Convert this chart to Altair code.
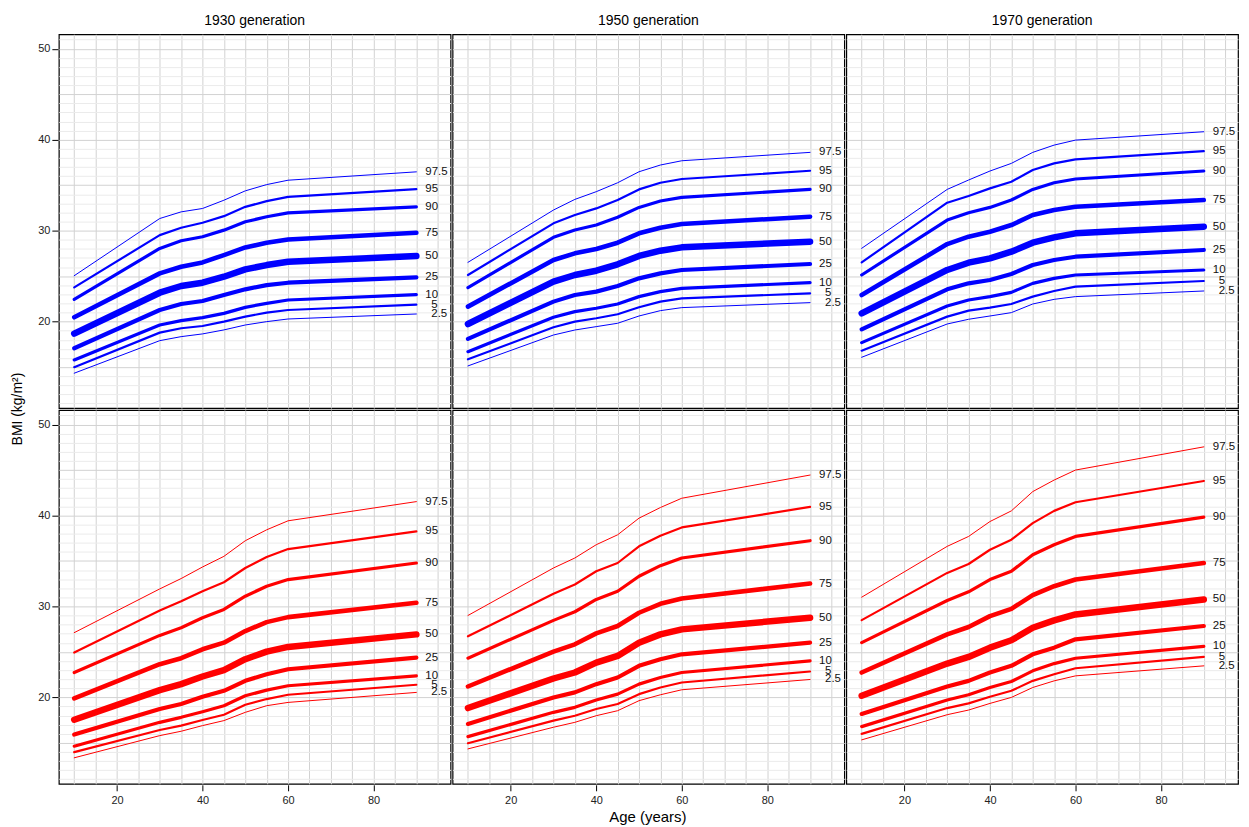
import altair as alt
import pandas as pd

AGES = [10, 30, 35, 40, 45, 50, 55, 60, 90]
PCTS = ["2.5", "5", "10", "25", "50", "75", "90", "95", "97.5"]
WIDTHS = [1, 2.2, 3.2, 4.2, 6.5, 4.6, 3.2, 2.2, 1]
SHIFTED = ["5", "2.5"]
GENERATIONS = ["1930 generation", "1950 generation", "1970 generation"]
SEXES = ["Men", "Women"]

MEN_1930 = {
    "97.5": [25.05, 31.34, 32.07, 32.44, 33.35, 34.38, 35.07, 35.55, 36.47],
    "95":   [23.77, 29.51, 30.32, 30.87, 31.60, 32.62, 33.25, 33.72, 34.56],
    "90":   [22.45, 28.05, 28.89, 29.33, 30.06, 30.98, 31.53, 31.96, 32.62],
    "75":   [20.48, 25.31, 26.04, 26.51, 27.32, 28.16, 28.67, 29.04, 29.77],
    "50":   [18.68, 23.18, 23.92, 24.28, 24.94, 25.74, 26.22, 26.59, 27.21],
    "25":   [17.07, 21.28, 21.94, 22.27, 22.93, 23.55, 24.02, 24.28, 24.87],
    "10":   [15.79, 19.63, 20.11, 20.44, 20.91, 21.57, 22.01, 22.38, 22.96],
    "5":    [14.99, 18.79, 19.27, 19.52, 20.00, 20.55, 20.99, 21.28, 21.87],
    "2.5":  [14.33, 17.91, 18.35, 18.65, 19.09, 19.63, 20.00, 20.29, 20.84],
}
MEN_1950 = {
    "97.5": [26.52, 32.27, 33.44, 34.29, 35.27, 36.48, 37.22, 37.69, 38.61],
    "95":   [25.13, 30.81, 31.72, 32.45, 33.37, 34.54, 35.27, 35.68, 36.59],
    "90":   [23.74, 29.27, 30.07, 30.62, 31.47, 32.56, 33.26, 33.66, 34.54],
    "75":   [21.65, 26.78, 27.51, 27.99, 28.68, 29.71, 30.33, 30.73, 31.54],
    "50":   [19.74, 24.40, 25.13, 25.60, 26.30, 27.22, 27.80, 28.17, 28.79],
    "25":   [18.10, 22.20, 22.93, 23.30, 23.92, 24.76, 25.31, 25.68, 26.34],
    "10":   [16.70, 20.48, 21.10, 21.47, 21.94, 22.75, 23.30, 23.66, 24.29],
    "5":    [15.86, 19.38, 20.00, 20.37, 20.81, 21.58, 22.20, 22.56, 23.11],
    "2.5":  [15.13, 18.53, 19.08, 19.45, 19.82, 20.62, 21.21, 21.54, 22.09],
}
MEN_1970 = {
    "97.5": [28.06, 34.54, 35.57, 36.56, 37.40, 38.61, 39.41, 39.96, 40.88],
    "95":   [26.52, 33.08, 33.81, 34.65, 35.38, 36.67, 37.40, 37.84, 38.75],
    "90":   [25.13, 31.17, 31.98, 32.56, 33.37, 34.54, 35.27, 35.68, 36.56],
    "75":   [22.93, 28.53, 29.34, 29.89, 30.62, 31.72, 32.27, 32.64, 33.37],
    "50":   [20.92, 25.68, 26.48, 26.96, 27.69, 28.68, 29.27, 29.71, 30.44],
    "25":   [19.16, 23.55, 24.21, 24.58, 25.24, 26.23, 26.78, 27.14, 27.88],
    "10":   [17.69, 21.72, 22.38, 22.75, 23.22, 24.21, 24.76, 25.13, 25.68],
    "5":    [16.81, 20.55, 21.21, 21.54, 21.94, 22.75, 23.37, 23.85, 24.47],
    "2.5":  [16.08, 19.74, 20.26, 20.62, 20.99, 21.94, 22.45, 22.75, 23.37],
}
WOMEN_1930 = {
    "97.5": [27.12, 31.93, 33.07, 34.34, 35.51, 37.23, 38.43, 39.42, 41.53],
    "95":   [24.93, 29.56, 30.58, 31.68, 32.66, 34.23, 35.44, 36.31, 38.25],
    "90":   [22.74, 26.82, 27.66, 28.76, 29.67, 31.13, 32.23, 32.96, 34.78],
    "75":   [19.89, 23.65, 24.31, 25.29, 26.02, 27.30, 28.28, 28.83, 30.40],
    "50":   [17.55, 20.80, 21.46, 22.30, 22.99, 24.20, 25.04, 25.55, 26.93],
    "25":   [15.91, 18.72, 19.27, 20.07, 20.73, 21.82, 22.55, 23.10, 24.38],
    "10":   [14.64, 17.26, 17.81, 18.43, 19.09, 20.18, 20.80, 21.28, 22.37],
    "5":    [13.98, 16.42, 16.90, 17.52, 18.10, 19.20, 19.82, 20.29, 21.39],
    "2.5":  [13.36, 15.80, 16.28, 16.90, 17.45, 18.36, 19.09, 19.45, 20.55],
}
WOMEN_1950 = {
    "97.5": [29.01, 34.23, 35.33, 36.79, 37.88, 39.71, 40.88, 41.90, 44.45],
    "95":   [26.72, 31.39, 32.41, 33.87, 34.78, 36.61, 37.77, 38.69, 40.95],
    "90":   [24.31, 28.47, 29.42, 30.77, 31.68, 33.32, 34.49, 35.33, 37.23],
    "75":   [21.20, 25.04, 25.84, 27.04, 27.85, 29.31, 30.29, 30.88, 32.52],
    "50":   [18.83, 22.08, 22.74, 23.83, 24.56, 26.02, 26.93, 27.48, 28.76],
    "25":   [17.08, 20.00, 20.55, 21.46, 22.19, 23.47, 24.20, 24.74, 26.02],
    "10":   [15.69, 18.36, 18.91, 19.71, 20.36, 21.46, 22.19, 22.74, 24.01],
    "5":    [14.96, 17.45, 17.99, 18.72, 19.27, 20.36, 21.09, 21.64, 22.85],
    "2.5":  [14.34, 16.72, 17.26, 17.99, 18.54, 19.64, 20.29, 20.84, 21.97],
}
WOMEN_1970 = {
    "97.5": [31.02, 36.61, 37.70, 39.34, 40.51, 42.63, 43.90, 45.00, 47.55],
    "95":   [28.50, 33.69, 34.67, 36.24, 37.34, 39.16, 40.51, 41.46, 43.80],
    "90":   [26.02, 30.66, 31.61, 32.96, 33.87, 35.69, 36.79, 37.70, 39.82],
    "75":   [22.74, 26.93, 27.74, 28.94, 29.74, 31.24, 32.23, 32.96, 34.78],
    "50":   [20.18, 23.72, 24.45, 25.47, 26.28, 27.66, 28.47, 29.12, 30.77],
    "25":   [18.18, 21.20, 21.82, 22.74, 23.47, 24.74, 25.47, 26.39, 27.85],
    "10":   [16.79, 19.71, 20.29, 21.09, 21.75, 22.92, 23.72, 24.31, 25.62],
    "5":    [15.99, 18.83, 19.34, 20.07, 20.73, 21.82, 22.55, 23.21, 24.45],
    "2.5":  [15.33, 18.10, 18.61, 19.34, 20.00, 21.09, 21.82, 22.37, 23.47],
}

PANELS = [
    ("Men", "1930 generation", MEN_1930),
    ("Men", "1950 generation", MEN_1950),
    ("Men", "1970 generation", MEN_1970),
    ("Women", "1930 generation", WOMEN_1930),
    ("Women", "1950 generation", WOMEN_1950),
    ("Women", "1970 generation", WOMEN_1970),
]

rows = []
for sex, gen, table in PANELS:
    for pct in PCTS:
        for age, bmi in zip(AGES, table[pct]):
            rows.append({"sex": sex, "generation": gen, "pct": pct,
                         "age": age, "bmi": bmi,
                         "shifted": pct in SHIFTED})
df = pd.DataFrame(rows)

FONT = "Liberation Sans"
LAST_AGE = AGES[-1]
X_GRID = list(range(10, 100, 5))
Y_GRID = list(range(11, 52))

x_enc = alt.X(
    "age:Q",
    scale=alt.Scale(domain=[6.4, 98.0], nice=False, zero=False),
    axis=alt.Axis(
        title=None,
        values=X_GRID,
        tickCount=200,
        format="d",
        grid=True,
        gridColor="#d2d2d2",
        gridWidth=1,
        domain=False,
        labelOverlap=False,
        labelExpr="datum.value % 20 === 0 ? datum.label : ''",
        tickColor={"condition": {"test": "datum.value % 20 === 0", "value": "black"},
                   "value": "rgba(0,0,0,0)"},
        tickSize=6,
        labelFontSize=11,
        labelColor="#222222",
        labelPadding=4,
    ),
)
y_enc = alt.Y(
    "bmi:Q",
    scale=alt.Scale(domain=[10.5, 51.6], nice=False, zero=False),
    axis=alt.Axis(
        title=None,
        values=Y_GRID,
        tickCount=200,
        format="d",
        grid=True,
        gridColor={"condition": {"test": "datum.value % 5 === 0", "value": "#d2d2d2"},
                   "value": "#ebebeb"},
        gridWidth=1,
        domain=False,
        labelOverlap=False,
        labelExpr="datum.value % 10 === 0 ? datum.label : ''",
        tickColor={"condition": {"test": "datum.value % 10 === 0", "value": "black"},
                   "value": "rgba(0,0,0,0)"},
        tickSize=6,
        labelFontSize=11,
        labelColor="#222222",
        labelPadding=2,
    ),
)

color_enc = alt.Color("sex:N", scale=alt.Scale(domain=SEXES, range=["#0000ff", "#ff0000"]),
                      legend=None)

lines = alt.Chart().mark_line(interpolate="linear", strokeCap="round",
                              strokeJoin="round").encode(
    x=x_enc,
    y=y_enc,
    color=color_enc,
    detail="pct:N",
    strokeWidth=alt.StrokeWidth("pct:N", scale=alt.Scale(type="ordinal", domain=PCTS,
                                                         range=WIDTHS), legend=None),
)

labels = alt.Chart().transform_filter(
    f"datum.age === {LAST_AGE} && !datum.shifted"
).mark_text(
    align="left", baseline="middle", dx=9, fontSize=11.5, font=FONT, color="#111111"
).encode(x=alt.X("age:Q"), y=alt.Y("bmi:Q"), text="pct:N")

labels_shifted = alt.Chart().transform_filter(
    f"datum.age === {LAST_AGE} && datum.shifted"
).mark_text(
    align="left", baseline="middle", dx=15, fontSize=11.5, font=FONT, color="#111111"
).encode(x=alt.X("age:Q"), y=alt.Y("bmi:Q"), text="pct:N")

chart = alt.layer(lines, labels, labels_shifted, data=df).properties(
    width=393, height=375,
    view=alt.ViewBackground(stroke="#000000", strokeWidth=1.2, strokeOpacity=1),
).facet(
    row=alt.Row("sex:N", sort=SEXES,
                header=alt.Header(labels=False, title="BMI (kg/m²)", titleOrient="left",
                                  titleFontSize=14, titleFontWeight="normal", titleFont=FONT,
                                  titlePadding=2)),
    column=alt.Column("generation:N", sort=GENERATIONS,
                      header=alt.Header(title="Age (years)", titleOrient="bottom",
                                        labelOrient="top", labelFontSize=14, labelFont=FONT,
                                        labelPadding=5,
                                        titleFontSize=15, titleFontWeight="normal",
                                        titleFont=FONT, titlePadding=-6)),
    spacing=0,
).properties(
    padding={"left": 2, "top": 5, "right": 2, "bottom": 2}
).configure_view(
    stroke="#000000", strokeWidth=1.2
).configure_axis(
    labelFont=FONT
).configure(background="white")

chart.save("out.html", embed_options={"renderer": "svg", "actions": False})
